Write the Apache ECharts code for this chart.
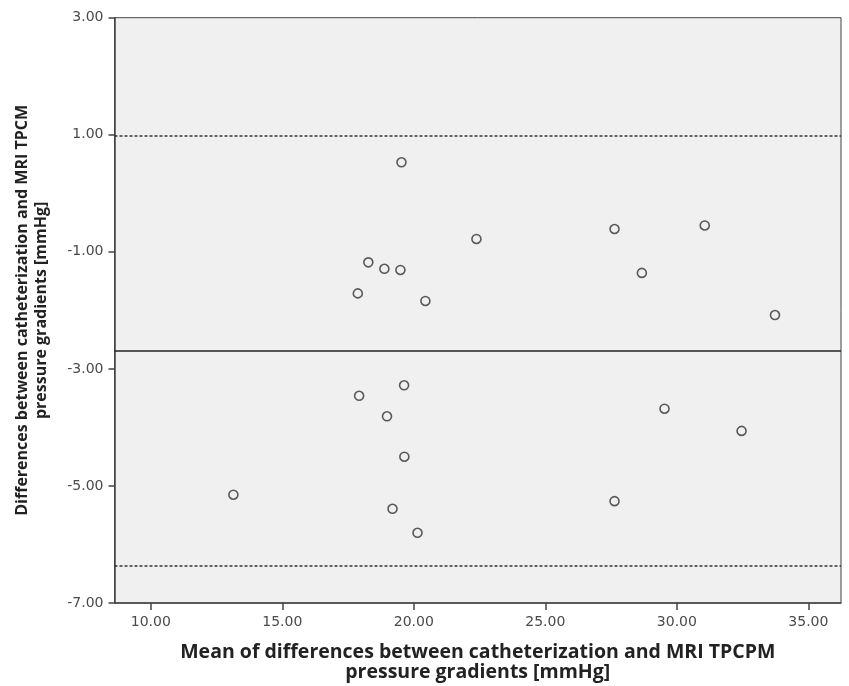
<!DOCTYPE html>
<html>
<head>
<meta charset="utf-8">
<script src="https://cdn.jsdelivr.net/npm/echarts@6/dist/echarts.min.js"></script>
<style>
  html, body { margin: 0; padding: 0; background: #fff; }
  #chart { width: 849px; height: 686px; }
</style>
</head>
<body>
<div id="chart"></div>
<script>
// mean of the two methods (x) and their difference (y)
const meanValues = [19.53, 22.38, 18.27, 18.88, 19.49, 17.87, 20.44,
  27.63, 31.06, 28.67, 33.73,
  19.63, 17.92, 18.98, 19.64, 13.14, 19.19, 20.14,
  29.53, 32.46, 27.63];
const diffValues = [0.53, -0.78, -1.18, -1.29, -1.31, -1.71, -1.84,
  -0.61, -0.55, -1.36, -2.08,
  -3.28, -3.46, -3.81, -4.50, -5.15, -5.39, -5.80,
  -3.68, -4.06, -5.26];

const meanDiff = -2.69;                  // solid line
const limitsOfAgreement = [0.99, -6.37]; // dashed lines

const xTicks = [10, 15, 20, 25, 30, 35];
const yTicks = [3, 1, -1, -3, -5, -7];

const points = meanValues.map((x, i) => [x, diffValues[i]]);

const chart = echarts.init(document.getElementById('chart'));

const axisText = { fontFamily: 'DejaVu Sans', fontSize: 14, color: '#4a4a4a' };

chart.setOption({
  animation: false,
  backgroundColor: '#fff',
  grid: {
    left: 114.5, top: 17.7, right: 8, bottom: 83,
    outerBoundsMode: 'none',
    containLabel: false,
    show: true,
    backgroundColor: '#f0f0f0',
    borderColor: '#444',
    borderWidth: 1
  },
  xAxis: {
    type: 'value',
    min: 8.62,
    max: 36.24,
    name: 'Mean of differences between catheterization and MRI TPCPM\npressure gradients [mmHg]',
    nameLocation: 'middle',
    nameGap: 39,
    nameTextStyle: { fontFamily: 'Open Sans', fontSize: 19.5, fontWeight: 'bold', color: '#222', lineHeight: 20 },
    axisLine: { show: true, onZero: false, lineStyle: { color: '#444', width: 1.5 } },
    axisTick: { show: true, length: 7, customValues: xTicks, lineStyle: { color: '#444', width: 1.5 } },
    axisLabel: Object.assign({ customValues: xTicks, margin: 12, formatter: v => v.toFixed(2) }, axisText),
    splitLine: { show: false }
  },
  yAxis: {
    type: 'value',
    min: -7,
    max: 3,
    name: 'Differences between catheterization and MRI TPCM\npressure gradients [mmHg]',
    nameLocation: 'middle',
    nameGap: 64,
    nameRotate: 90,
    nameTextStyle: { fontFamily: 'Open Sans', fontSize: 16, fontWeight: 'bold', color: '#222', lineHeight: 19 },
    axisLine: { show: true, onZero: false, lineStyle: { color: '#444', width: 1.5 } },
    axisTick: { show: true, length: 6, customValues: yTicks, lineStyle: { color: '#444', width: 1.5 } },
    axisLabel: Object.assign({ customValues: yTicks, margin: 11, formatter: v => v.toFixed(2) }, axisText),
    splitLine: { show: false }
  },
  series: [{
    type: 'scatter',
    data: points,
    symbol: 'circle',
    symbolSize: 9,
    itemStyle: { color: '#f0f0f0', borderColor: '#333', borderWidth: 1.6 },
    markLine: {
      silent: true,
      symbol: 'none',
      label: { show: false },
      data: [
        { yAxis: meanDiff, lineStyle: { type: 'solid', color: '#222', width: 1.5 } },
        { yAxis: limitsOfAgreement[0], lineStyle: { type: [3, 2], color: '#333', width: 1.5 } },
        { yAxis: limitsOfAgreement[1], lineStyle: { type: [3, 2], color: '#333', width: 1.5 } }
      ]
    }
  }]
});
</script>
</body>
</html>
